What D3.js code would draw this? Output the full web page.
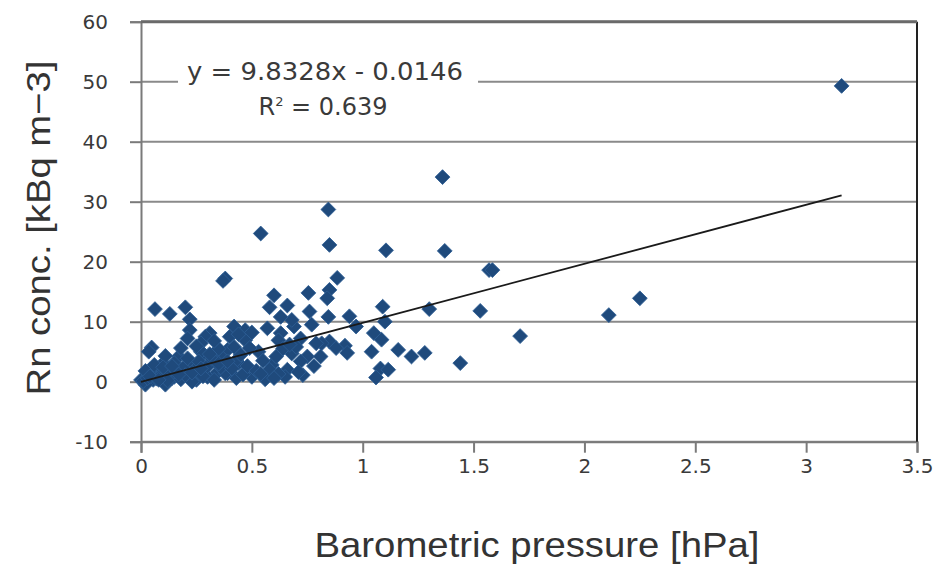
<!DOCTYPE html>
<html>
<head>
<meta charset="utf-8">
<script src="https://cdn.jsdelivr.net/npm/d3@7"></script>
<style>
  body { margin: 0; background: #fff; }
  svg { display: block; }
</style>
</head>
<body>
<div id="chart"></div>
<script>
// barometric pressure [hPa] and radon conc. [kBq m-3]
const pressure = [
  3.16, 2.25, 2.11, 1.71, 1.57, 1.585, 1.53, 1.44, 1.36, 1.37,
  1.30, 1.28, 1.22, 1.16, 1.105, 1.09, 1.10, 1.05, 1.085, 1.04,
  1.08, 1.115, 1.06, 0.97, 0.94, 0.92, 0.93, 0.885, 0.85, 0.84,
  0.845, 0.85, 0.845, 0.85, 0.815, 0.79, 0.77, 0.76, 0.755, 0.75,
  0.72, 0.72, 0.66, 0.65, 0.68, 0.69, 0.68, 0.66, 0.63, 0.63,
  0.62, 0.60, 0.58, 0.57, 0.59, 0.58, 0.54, 0.53, 0.50, 0.47,
  0.47, 0.44, 0.43, 0.43, 0.42, 0.40, 0.39, 0.39, 0.38, 0.37,
  0.36, 0.35, 0.34, 0.31, 0.29, 0.28, 0.27, 0.27, 0.25, 0.23,
  0.23, 0.22, 0.22, 0.21, 0.20, 0.17, 0.15, 0.15, 0.14, 0.13,
  0.11, 0.10, 0.08, 0.063, 0.055, 0.048, 0.035, 0.04, 0.02, 0.0,
  0.30, 0.38, 0.01, 0.03, 0.05, 0.07, 0.09, 0.12, 0.12, 0.16,
  0.18, 0.19, 0.20, 0.24, 0.26, 0.28, 0.30, 0.32, 0.33, 0.36,
  0.41, 0.45, 0.46, 0.48, 0.52, 0.55, 0.56, 0.61, 0.62, 0.64,
  0.70, 0.73, 0.02, 0.06, 0.11, 0.18, 0.25, 0.33, 0.44, 0.50,
  0.04, 0.08, 0.10, 0.14, 0.17, 0.21, 0.23, 0.27, 0.31, 0.35,
  0.39, 0.42, 0.49, 0.54, 0.60, 0.67, 0.71, 0.78, 0.81, 0.88
];
const radon = [
  49.3, 13.9, 11.1, 7.6, 18.6, 18.6, 11.8, 3.1, 34.1, 21.8,
  12.1, 4.8, 4.2, 5.3, 21.9, 12.5, 10.0, 8.1, 7.0, 5.0,
  2.2, 2.0, 0.7, 9.2, 10.9, 6.0, 4.8, 17.3, 15.3, 13.9,
  28.7, 22.8, 10.8, 6.7, 6.4, 6.4, 9.5, 11.7, 14.8, 4.2,
  7.2, 3.4, 2.0, 0.8, 4.7, 9.2, 10.3, 12.7, 10.8, 8.1,
  6.9, 14.4, 12.4, 8.9, 2.8, 2.0, 24.7, 5.0, 0.8, 8.6,
  6.9, 3.1, 3.6, 0.6, 9.2, 7.5, 5.3, 1.4, 17.2, 16.8,
  4.2, 5.5, 1.4, 8.1, 7.5, 4.7, 6.4, 5.0, 0.3, 2.8,
  0.0, 10.4, 8.6, 7.2, 12.4, 4.2, 3.1, 0.8, 0.6, 11.3,
  -0.5, 3.1, 2.0, 12.1, 0.3, 5.7, 5.0, 2.0, -0.5, 0.3,
  0.8, 1.4, 0.1, 0.6, 1.2, 0.5, 1.0, 1.6, 0.2, 1.8,
  0.4, 2.3, 1.1, 1.9, 3.4, 0.9, 2.6, 3.8, 0.3, 2.4,
  2.2, 4.5, 1.2, 2.6, 1.8, 3.5, 0.4, 4.2, 1.3, 5.5,
  5.8, 1.1, 1.8, 2.8, 4.3, 5.6, 5.9, 6.8, 7.9, 8.2,
  0.9, 0.3, 2.4, 2.6, 1.2, 3.9, 1.5, 2.2, 4.6, 3.0,
  3.4, 5.8, 5.6, 1.3, 0.6, 6.2, 1.6, 2.6, 4.2, 5.6
];
const xTicks = [0, 0.5, 1, 1.5, 2, 2.5, 3, 3.5];
const yTicks = [-10, 0, 10, 20, 30, 40, 50, 60];
const slope = 9.8328, intercept = -0.0146, r2 = 0.639;

const width = 942, height = 566;
const plotL = 141, plotR = 917, plotT = 21.7, plotB = 441.7;

const svg = d3.select("#chart").append("svg")
  .attr("width", width)
  .attr("height", height);

const x = d3.scaleLinear().domain([0, 3.5]).range([plotL, plotR]);
const y = d3.scaleLinear().domain([-10, 60]).range([plotB, plotT]);

// gridlines
svg.append("g")
  .selectAll("line")
  .data(yTicks)
  .join("line")
  .attr("x1", plotL).attr("x2", plotR)
  .attr("y1", d => y(d)).attr("y2", d => y(d))
  .attr("stroke", "#8a8a8a")
  .attr("stroke-width", 2);

// axes
const yAxis = svg.append("g")
  .attr("transform", `translate(${plotL},0)`)
  .call(d3.axisLeft(y).tickValues(yTicks).tickSize(11).tickPadding(22).tickFormat(d => String(d)));
const xAxis = svg.append("g")
  .attr("transform", `translate(0,${plotB})`)
  .call(d3.axisBottom(x).tickValues(xTicks).tickSize(11).tickPadding(6).tickFormat(d => String(d)));

[yAxis, xAxis].forEach(a => {
  a.select(".domain").attr("stroke", "#7a7a7a").attr("stroke-width", 2);
  a.selectAll(".tick line").attr("stroke", "#7a7a7a").attr("stroke-width", 2);
  a.selectAll("text")
    .attr("fill", "#3a3a3a")
    .attr("font-family", "DejaVu Sans, sans-serif")
    .attr("font-size", 20);
});

// right and top border
svg.append("line")
  .attr("x1", plotR).attr("x2", plotR).attr("y1", y(60)).attr("y2", y(-10))
  .attr("stroke", "#222").attr("stroke-width", 2);
svg.append("line")
  .attr("x1", plotL).attr("x2", plotR).attr("y1", y(60)).attr("y2", y(60))
  .attr("stroke", "#6a6a6a").attr("stroke-width", 3);

// points
const diamond = d3.symbol(d3.symbolSquare, 110);
svg.append("g")
  .selectAll("path")
  .data(pressure.map((p, i) => [p, radon[i]]))
  .join("path")
  .attr("d", diamond)
  .attr("transform", d => `translate(${x(d[0])},${y(d[1])}) rotate(45)`)
  .attr("fill", "#1f4a7c")
  .attr("stroke", "#2d5d93")
  .attr("stroke-width", 0.8);

// trend line
const xMax = d3.max(pressure);
svg.append("path")
  .datum([0, xMax])
  .attr("d", d3.line().x(d => x(d)).y(d => y(slope * d + intercept)))
  .attr("fill", "none")
  .attr("stroke", "#1a1a1a")
  .attr("stroke-width", 1.8);

// equation label
const lab = svg.append("g").attr("transform", `translate(${x(0.83)},${y(50)})`);
lab.append("rect")
  .attr("x", -147).attr("y", -28).attr("width", 300).attr("height", 68)
  .attr("fill", "#fff");
lab.append("text")
  .attr("text-anchor", "middle")
  .attr("y", -2)
  .attr("font-family", "DejaVu Sans, sans-serif")
  .attr("font-size", 24)
  .attr("textLength", 276)
  .attr("lengthAdjust", "spacingAndGlyphs")
  .attr("fill", "#3a3a3a")
  .text(`y = ${slope}x - ${Math.abs(intercept)}`);
const r2t = lab.append("text")
  .attr("text-anchor", "middle")
  .attr("x", -2)
  .attr("y", 33)
  .attr("font-family", "DejaVu Sans, sans-serif")
  .attr("font-size", 24)
  .attr("fill", "#3a3a3a");
r2t.append("tspan").text("R");
r2t.append("tspan").attr("dy", -9).attr("font-size", 13).text("2");
r2t.append("tspan").attr("dy", 9).text(` = ${r2}`);

// axis titles
svg.append("text")
  .attr("x", 537)
  .attr("y", 557)
  .attr("text-anchor", "middle")
  .attr("font-family", "Liberation Sans, Arial, sans-serif")
  .attr("font-size", 35)
  .attr("textLength", 445)
  .attr("lengthAdjust", "spacingAndGlyphs")
  .attr("fill", "#333")
  .text("Barometric pressure [hPa]");

svg.append("text")
  .attr("transform", `translate(50,228) rotate(-90)`)
  .attr("text-anchor", "middle")
  .attr("font-family", "Liberation Sans, Arial, sans-serif")
  .attr("font-size", 34)
  .attr("textLength", 335)
  .attr("lengthAdjust", "spacingAndGlyphs")
  .attr("fill", "#333")
  .text("Rn conc. [kBq m\u22123]");
</script>
</body>
</html>
